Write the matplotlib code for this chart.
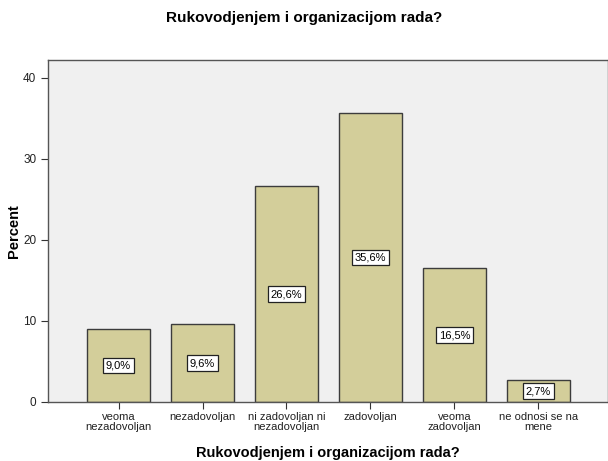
import matplotlib
matplotlib.use("Agg")
import matplotlib.pyplot as plt
import numpy as np

plt.rcParams['font.family'] = ['Liberation Sans', 'DejaVu Sans']

# data
categories = ["veoma\nnezadovoljan", "nezadovoljan", "ni zadovoljan ni\nnezadovoljan",
              "zadovoljan", "veoma\nzadovoljan", "ne odnosi se na\nmene"]
percent = [9.0, 9.6, 26.6, 35.6, 16.5, 2.7]
value_labels = ["9,0%", "9,6%", "26,6%", "35,6%", "16,5%", "2,7%"]
title = "Rukovodjenjem i organizacijom rada?"

fig = plt.figure(figsize=(6.08, 4.61), dpi=100)
ax = fig.add_axes([0.079, 0.128, 0.921, 0.742])
ax.set_facecolor("#f0f0f0")

x = np.arange(len(categories))
ax.bar(x, percent, width=0.75, color="#d3ce9a", edgecolor="#3c3c3c", linewidth=1.0, zorder=2)

# value labels in the middle of each bar
for xi, v, lab in zip(x, percent, value_labels):
    ax.text(xi, v / 2, lab, ha="center", va="center", fontsize=8, zorder=3,
            bbox=dict(boxstyle="square,pad=0.25", facecolor="white", edgecolor="#222222", linewidth=0.9))

ax.set_xlim(-0.84, 5.83)
ax.set_ylim(0, 42.2)
ax.set_yticks([0, 10, 20, 30, 40])
ax.set_xticks(x)
ax.set_xticklabels(categories, fontsize=8, linespacing=1.05)
ax.tick_params(axis="y", labelsize=8.5, direction="out", length=5, color="#333333", labelcolor="#222222")
ax.tick_params(axis="x", direction="out", length=5, color="#333333", labelcolor="#222222", pad=2)

for side in ["left", "bottom", "top", "right"]:
    ax.spines[side].set_color("#555555")
    ax.spines[side].set_linewidth(1.0)

ax.set_ylabel("Percent", fontsize=10.5, fontweight="bold")
ax.yaxis.set_label_coords(-0.048, 0.5)
ax.set_xlabel(title, fontsize=10.5, fontweight="bold", labelpad=10)
fig.text(0.5, 0.961, title, ha="center", va="center", fontsize=11, fontweight="bold")

fig.savefig("out.png", dpi=100)
